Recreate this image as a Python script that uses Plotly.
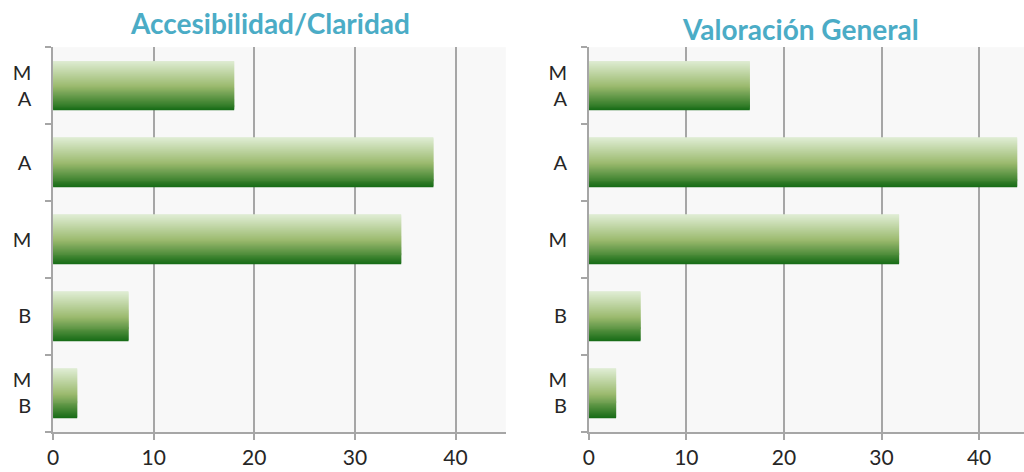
import plotly.graph_objects as go

# categories listed top to bottom as in the reference
categories = ["M<br>A", "A", "M", "B", "M<br>B"]
accesibilidad = [18.0, 37.8, 34.6, 7.5, 2.4]
valoracion = [16.5, 43.9, 31.8, 5.3, 2.8]
x_ticks = [0, 10, 20, 30, 40]
titles = ["Accesibilidad/Claridad", "Valoración General"]

FONT = "Lato"
GRID = "#A6A6A6"
TITLE_COLOR = "#4BACC6"
BAR_WIDTH = 0.636
N_STRIPES = 50

# gradient stops, bottom (0) to top (1)
STOPS = [(0.0, (22, 107, 22)), (0.5, (155, 186, 110)), (1.0, (222, 236, 210))]


def grad_color(t):
    for (t0, c0), (t1, c1) in zip(STOPS[:-1], STOPS[1:]):
        if t0 <= t <= t1:
            f = (t - t0) / (t1 - t0)
            r, g, b = (round(a + (b_ - a) * f) for a, b_ in zip(c0, c1))
            return f"rgb({r},{g},{b})"
    return f"rgb{STOPS[-1][1]}"


def add_gradient_bars(fig, values, xref, yref):
    # stack thin bar slices to fake the vertical gradient fill
    step = BAR_WIDTH / N_STRIPES
    for i in range(N_STRIPES):
        t = (i + 0.5) / N_STRIPES
        w = step * 1.5 if i < N_STRIPES - 1 else step
        fig.add_trace(
            go.Bar(
                x=values,
                y=categories,
                orientation="h",
                width=w,
                offset=-BAR_WIDTH / 2 + i * step,
                marker=dict(color=grad_color(t), line_width=0),
                xaxis=xref,
                yaxis=yref,
                showlegend=False,
                hoverinfo="skip" if i else "x+y",
            )
        )


fig = go.Figure()
add_gradient_bars(fig, accesibilidad, "x", "y")
add_gradient_bars(fig, valoracion, "x2", "y2")

xaxis_common = dict(
    tickvals=x_ticks,
    showgrid=True,
    gridcolor=GRID,
    gridwidth=1.5,
    showline=True,
    linecolor=GRID,
    linewidth=1.5,
    ticks="outside",
    ticklen=6,
    tickcolor=GRID,
    tickwidth=1.5,
    zeroline=False,
    automargin=False,
    tickfont=dict(family=FONT, size=21, color="#262626"),
    fixedrange=True,
)
yaxis_common = dict(
    type="category",
    categoryorder="array",
    categoryarray=categories[::-1],
    showline=True,
    linecolor=GRID,
    linewidth=1.5,
    ticks="outside",
    tickson="boundaries",
    ticklen=6,
    tickcolor=GRID,
    tickwidth=1.5,
    showgrid=False,
    automargin=False,
    tickfont=dict(family=FONT, size=20, color="#262626"),
    ticklabelstandoff=16,
    domain=[0.085, 0.9],
    fixedrange=True,
)

fig.update_layout(
    width=1024,
    height=472,
    margin=dict(l=0, r=0, t=0, b=0, autoexpand=False),
    paper_bgcolor="white",
    plot_bgcolor="#F8F8F8",
    barmode="overlay",
    xaxis=dict(xaxis_common, domain=[0.0518, 0.494], range=[0, 45], anchor="y"),
    yaxis=dict(yaxis_common, anchor="x"),
    xaxis2=dict(xaxis_common, domain=[0.575, 1.0], range=[0, 44.6], anchor="y2"),
    yaxis2=dict(yaxis_common, anchor="x2"),
    annotations=[
        dict(
            text=f"<b>{titles[0]}</b>",
            x=270 / 1024,
            y=1 - 23 / 472,
            xanchor="center",
            yanchor="middle",
            xref="paper",
            yref="paper",
            showarrow=False,
            font=dict(family=FONT, size=28, color=TITLE_COLOR),
        ),
        dict(
            text=f"<b>{titles[1]}</b>",
            x=800 / 1024,
            y=1 - 29 / 472,
            xanchor="center",
            yanchor="middle",
            xref="paper",
            yref="paper",
            showarrow=False,
            font=dict(family=FONT, size=28, color=TITLE_COLOR),
        ),
    ],
)

fig.write_html(
    "out.html",
    config={"displayModeBar": False},
    post_script="document.body.style.margin = '0';",
)
